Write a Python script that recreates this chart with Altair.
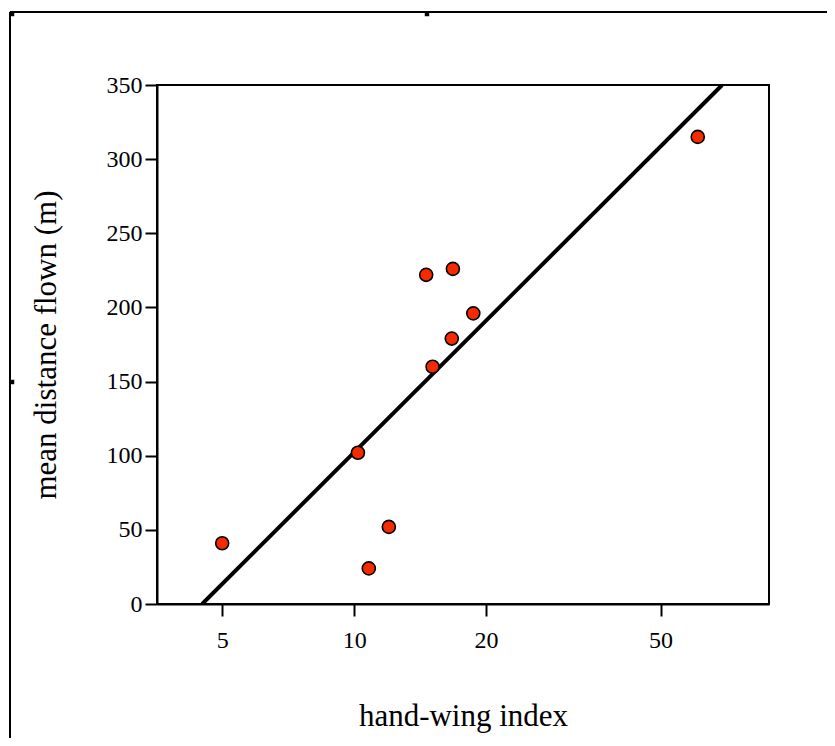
import altair as alt
import pandas as pd

hwi = [5.0, 10.2, 10.8, 12.0, 14.6, 15.1, 16.7, 16.8, 18.7, 60.8]
dist = [41, 102, 24, 52, 222, 160, 179, 226, 196, 315]
fit_x = [4.5, 69.1]
fit_y = [0, 350]
x_ticks = [5, 10, 20, 50]
y_ticks = [0, 50, 100, 150, 200, 250, 300, 350]

pts = pd.DataFrame({"hwi": hwi, "dist": dist})
fit = pd.DataFrame({"hwi": fit_x, "dist": fit_y})

W, H = 612, 519
FONT = "Liberation Serif"

xs = alt.Scale(type="log", domain=[3.55, 88.4], nice=False)
ys = alt.Scale(domain=[0, 350], nice=False)

xaxis = alt.Axis(values=x_ticks, format="d", title="hand-wing index", grid=False,
                 tickSize=12, tickWidth=2, tickColor="black", domainColor="black",
                 domainWidth=2, labelFontSize=24, labelFont=FONT, labelColor="black",
                 labelPadding=12, titleFont=FONT, titleFontSize=31, titleFontWeight="normal",
                 titleColor="black", titlePadding=49)
yaxis = alt.Axis(values=y_ticks, title="mean distance flown (m)", grid=False,
                 tickSize=12, tickWidth=2, tickColor="black", domainColor="black",
                 domainWidth=2, labelFontSize=24, labelFont=FONT, labelColor="black",
                 labelPadding=3, titleFont=FONT, titleFontSize=31, titleFontWeight="normal",
                 titleColor="black", titlePadding=44)

line = alt.Chart(fit).mark_line(color="black", strokeWidth=4, clip=True).encode(
    x=alt.X("hwi:Q", scale=xs, axis=xaxis),
    y=alt.Y("dist:Q", scale=ys, axis=yaxis),
)
points = alt.Chart(pts).mark_point(filled=True, fill="#f52a00", stroke="black",
                                   strokeWidth=1.6, size=170, opacity=1, shape="circle").encode(
    x=alt.X("hwi:Q", scale=xs),
    y=alt.Y("dist:Q", scale=ys),
)

# decorative outer frame (page-level lines)
frame_top = alt.Chart(pts).mark_rule(color="black", strokeWidth=2, clip=False).encode(
    x=alt.value(-147), x2=alt.value(700), y=alt.value(-73))
frame_left = alt.Chart(pts).mark_rule(color="black", strokeWidth=2, clip=False).encode(
    x=alt.value(-147), y=alt.value(-73), y2=alt.value(700))
nubs = pd.DataFrame({"px": [-145, 270, -145], "py": [-71, -71, 297]})
frame_nubs = alt.Chart(nubs).mark_square(color="black", size=20, opacity=1, clip=False).encode(
    x=alt.X("px:Q", scale=None), y=alt.Y("py:Q", scale=None))

chart = alt.layer(frame_top, frame_left, frame_nubs, line, points).properties(
    width=W, height=H,
    padding={"left": 149, "top": 77, "right": 58, "bottom": 134},
    autosize=alt.AutoSizeParams(type="none"),
).configure(background="white").configure_view(stroke="black", strokeWidth=2)

chart.save("out.html", embed_options={"renderer": "svg", "actions": False})
